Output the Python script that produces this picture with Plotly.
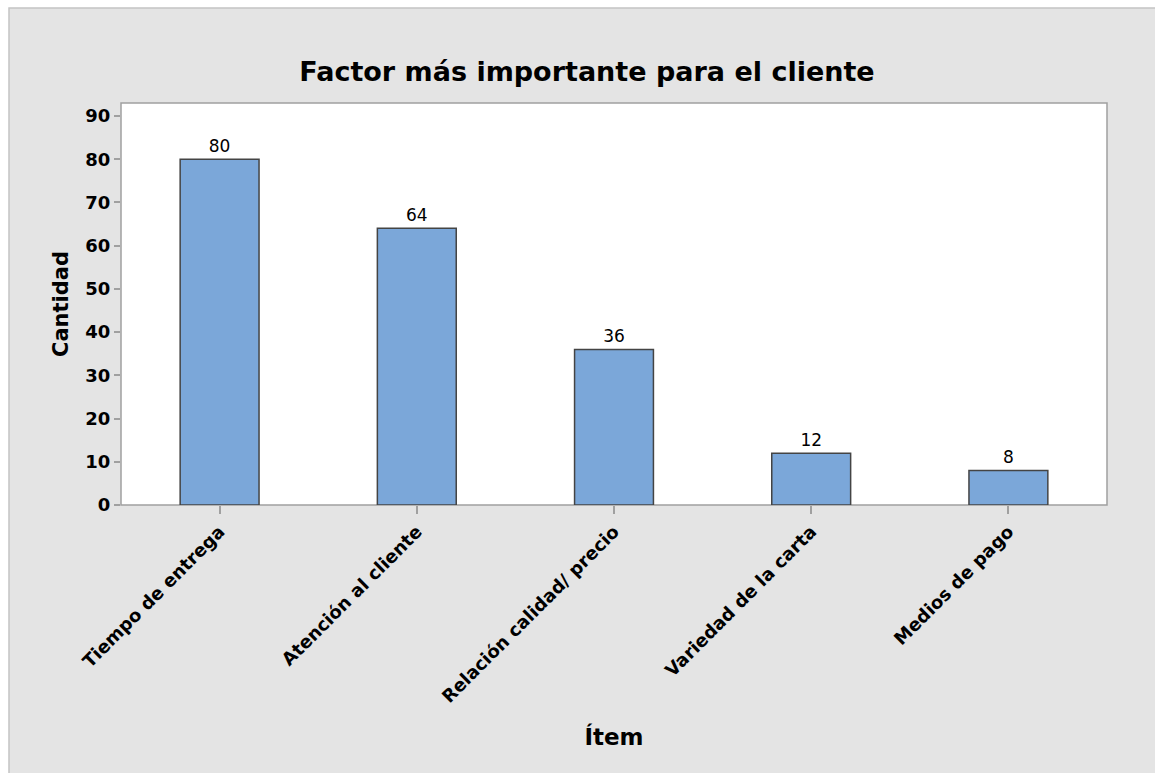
import plotly.graph_objects as go

categories = ["Tiempo de entrega", "Atención al cliente", "Relación calidad/ precio",
              "Variedad de la carta", "Medios de pago"]
values = [80, 64, 36, 12, 8]
y_ticks = [0, 10, 20, 30, 40, 50, 60, 70, 80, 90]

W, H = 1155, 773
L, R, T, B = 121, 1107, 103, 505
pw, ph = R - L, B - T

def px_x(p):
    return (p - L) / pw

def px_y(p):
    return (B - p) / ph

FONT = "DejaVu Sans"

fig = go.Figure()
fig.add_trace(go.Bar(
    x=categories, y=values, width=0.4,
    marker=dict(color="#7BA7D9", line=dict(color="#444444", width=1.5)),
    text=[str(v) for v in values], textposition="outside",
    textfont=dict(family=FONT, size=17, color="black"),
    cliponaxis=False,
))

fig.update_layout(
    width=W, height=H,
    margin=dict(l=L, r=W - R, t=T, b=H - B),
    paper_bgcolor="white",
    plot_bgcolor="rgba(0,0,0,0)",
    showlegend=False,
    title=dict(text="<b>Factor más importante para el cliente</b>",
               x=587 / W, xref="container", xanchor="center",
               y=1 - 72 / H, yanchor="middle",
               font=dict(family=FONT, size=27, color="black")),
    shapes=[
        dict(type="rect", xref="paper", yref="paper", layer="below",
             x0=px_x(9), x1=px_x(1170), y0=px_y(790), y1=px_y(8),
             fillcolor="#e4e4e4", line=dict(color="#c4c4c4", width=1.5)),
        dict(type="rect", xref="paper", yref="paper", layer="below",
             x0=0, x1=1, y0=0, y1=1,
             fillcolor="white", line=dict(color="#a0a0a0", width=1.5)),
    ],
)

fig.update_xaxes(
    range=[-0.5, 4.5], showline=False, showgrid=False, zeroline=False,
    ticks="outside", ticklen=8, tickcolor="#a0a0a0", tickwidth=1.5,
    tickangle=-45,
    tickfont=dict(family=FONT, size=18, color="black", weight="bold"),
    title=dict(text="<b>Ítem</b>", font=dict(family=FONT, size=23, color="black"),
               standoff=23),
)
fig.update_yaxes(
    range=[0, 93], tickvals=y_ticks, showline=False, showgrid=False, zeroline=False,
    ticks="outside", ticklen=6, tickcolor="#a0a0a0", tickwidth=1.5,
    tickfont=dict(family=FONT, size=18, color="black", weight="bold"),
    title=dict(text="<b>Cantidad</b>", font=dict(family=FONT, size=21, color="black"),
               standoff=10),
)

fig.write_html("out.html")
